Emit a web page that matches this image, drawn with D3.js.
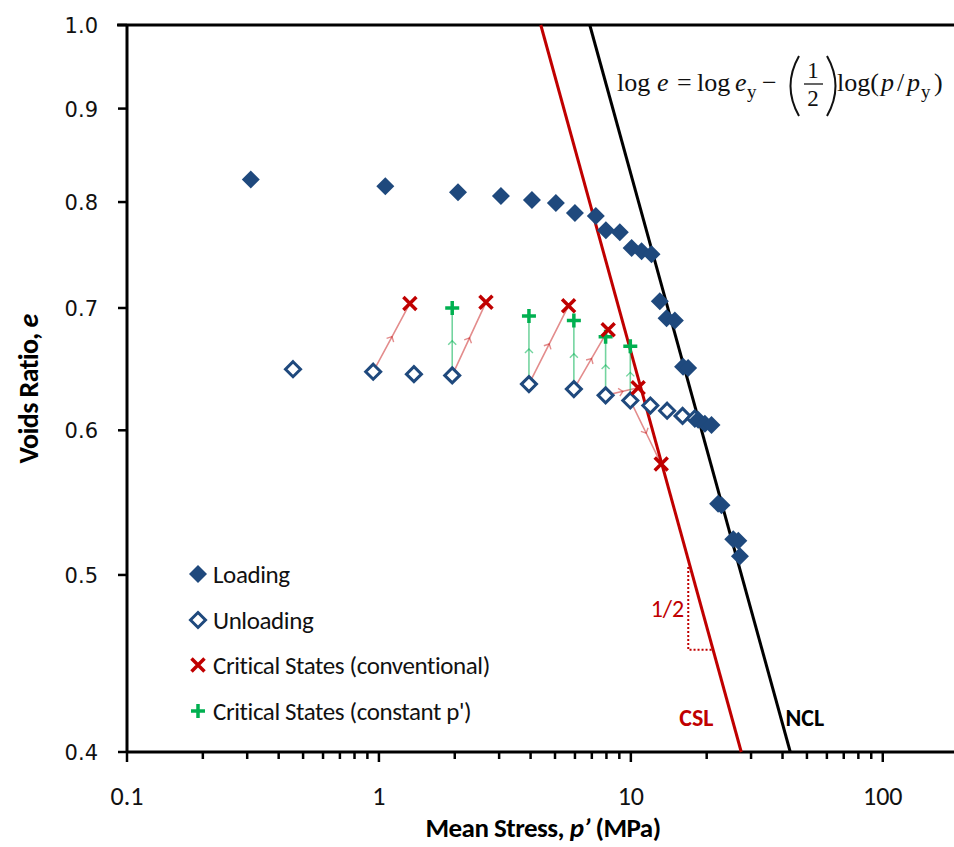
<!DOCTYPE html>
<html lang="en">
<head>
    <meta charset="UTF-8">
    <title>Voids ratio vs mean stress</title>
    <script src="https://d3js.org/d3.v7.min.js"></script>
    <style>
        body { margin: 0; background: #fff; }
        svg { display: block; }
    </style>
</head>
<body>
    <div id="chart"></div>

    <script>
        // loading (filled diamonds)
        const loadP = [0.31, 1.06, 2.06, 3.05, 4.05, 5.04, 6.0, 7.26, 7.96, 9.04, 10.07, 11.03, 12.08, 13.03,
            13.86, 14.95, 16.12, 16.88, 18.5, 19.67, 20.9, 22.2, 22.9, 25.5, 26.7, 27.1];
        const loadE = [0.823, 0.816, 0.810, 0.806, 0.802, 0.799, 0.789, 0.786, 0.772, 0.770, 0.755, 0.752, 0.749, 0.706,
            0.691, 0.689, 0.650, 0.649, 0.608, 0.605, 0.604, 0.547, 0.546, 0.523, 0.522, 0.512];

        // unloading (open diamonds)
        const unloadP = [0.456, 0.949, 1.377, 1.954, 3.94, 5.94, 7.94, 9.95, 11.95, 13.93, 16.04, 17.95];
        const unloadE = [0.648, 0.646, 0.644, 0.643, 0.636, 0.632, 0.627, 0.623, 0.619, 0.615, 0.611, 0.609];

        // critical states, conventional (x) - and which unloading point each arrow starts from
        const convP = [1.327, 2.66, 5.66, 8.13, 10.69, 13.2];
        const convE = [0.704, 0.705, 0.702, 0.681, 0.633, 0.575];
        const convFrom = [1, 3, 4, 5, 6, 7];

        // critical states, constant p' (+)
        const constP = [1.954, 3.94, 5.94, 7.94, 9.95];
        const constE = [0.700, 0.693, 0.689, 0.675, 0.667];
        const constFrom = [3, 4, 5, 6, 7];

        // CSL / NCL : e = (p / pRef)^(-1/2), pRef is p at e = 1
        const lineSlope = 0.5;
        const cslRef = 4.39;
        const nclRef = 6.87;

        // slope triangle
        const triP = [16.9, 21.2];
        const triE = [0.505, 0.455];

        const xMajor = [0.1, 1, 10, 100];
        const xMinor = [0.2, 0.3, 0.4, 0.5, 0.6, 0.7, 0.8, 0.9, 2, 3, 4, 5, 6, 7, 8, 9,
            20, 30, 40, 50, 60, 70, 80, 90];
        const yTicks = [0.4, 0.5, 0.6, 0.7, 0.8, 0.9, 1.0];

        const legendItems = ["Loading", "Unloading", "Critical States (conventional)", "Critical States (constant p')"];

        const width = 954;
        const height = 847;
        const blue = "#1F497D";
        const red = "#C00000";
        const green = "#00B050";
        const uiFont = "Carlito, Calibri, Lato, sans-serif";

        const svg = d3.select("#chart").append("svg")
            .attr("width", width)
            .attr("height", height);

        const x = d3.scaleLog().domain([0.1, 190]).range([127, 953]);
        const y = d3.scaleLog().domain([0.4, 1]).range([752, 25]);

        const defs = svg.append("defs");
        function chevron(id, color, op) {
            defs.append("marker")
                .attr("id", id)
                .attr("viewBox", "-6 -6 12 12")
                .attr("markerWidth", 12)
                .attr("markerHeight", 12)
                .attr("markerUnits", "userSpaceOnUse")
                .attr("orient", "auto")
                .append("path")
                .attr("d", "M-3,-4 L1,0 L-3,4")
                .attr("fill", "none")
                .attr("stroke", color)
                .attr("stroke-opacity", op)
                .attr("stroke-width", 1.4);
        }
        chevron("chevRed", red, 0.45);
        chevron("chevGreen", green, 0.55);

        // axes frame
        svg.append("line").attr("x1", 117).attr("x2", width).attr("y1", y(1)).attr("y2", y(1))
            .attr("stroke", "#000").attr("stroke-width", 3);
        svg.append("line").attr("x1", x(0.1)).attr("x2", x(0.1)).attr("y1", y(1)).attr("y2", y(0.4))
            .attr("stroke", "#000").attr("stroke-width", 3);
        svg.append("line").attr("x1", x(0.1)).attr("x2", width).attr("y1", y(0.4)).attr("y2", y(0.4))
            .attr("stroke", "#000").attr("stroke-width", 3);

        // y ticks
        svg.selectAll(".ytick").data(yTicks).enter().append("line")
            .attr("x1", x(0.1) - 9).attr("x2", x(0.1))
            .attr("y1", d => y(d)).attr("y2", d => y(d))
            .attr("stroke", "#000").attr("stroke-width", 2.5);
        svg.selectAll(".ylab").data(yTicks).enter().append("text")
            .attr("x", 98).attr("y", d => y(d) + 8)
            .attr("text-anchor", "end")
            .attr("font-family", "DejaVu Sans, Verdana, sans-serif")
            .attr("font-size", 21)
            .attr("fill", "#111")
            .text(d => d.toFixed(1));

        // x ticks
        svg.selectAll(".xmaj").data(xMajor).enter().append("line")
            .attr("x1", d => x(d)).attr("x2", d => x(d))
            .attr("y1", y(0.4)).attr("y2", y(0.4) + 10)
            .attr("stroke", "#000").attr("stroke-width", 2.5);
        svg.selectAll(".xmin").data(xMinor).enter().append("line")
            .attr("x1", d => x(d)).attr("x2", d => x(d))
            .attr("y1", y(0.4)).attr("y2", y(0.4) + 7)
            .attr("stroke", "#000").attr("stroke-width", 2.5);
        svg.selectAll(".xlab").data(xMajor).enter().append("text")
            .attr("x", d => x(d)).attr("y", 805)
            .attr("text-anchor", "middle")
            .attr("font-family", uiFont)
            .attr("font-size", 26)
            .attr("fill", "#111")
            .text(d => d);

        // axis titles
        const xt = svg.append("text")
            .attr("x", 543).attr("y", 837)
            .attr("text-anchor", "middle")
            .attr("font-family", uiFont)
            .attr("font-weight", "bold")
            .attr("font-size", 27)
            .attr("letter-spacing", -0.5);
        xt.append("tspan").text("Mean Stress, ");
        xt.append("tspan").attr("font-style", "italic").text("p\u2019");
        xt.append("tspan").text(" (MPa)");

        const yt = svg.append("text")
            .attr("transform", "translate(38,389) rotate(-90)")
            .attr("text-anchor", "middle")
            .attr("font-family", uiFont)
            .attr("font-weight", "bold")
            .attr("font-size", 28)
            .attr("letter-spacing", -0.6);
        yt.append("tspan").text("Voids Ratio, ");
        yt.append("tspan").attr("font-style", "italic").text("e");

        // CSL and NCL
        const lineE = [1, 0.4];
        [[cslRef, red], [nclRef, "#000"]].forEach(([ref, col]) => {
            svg.append("path")
                .datum(lineE)
                .attr("d", d3.line().x(e => x(ref * Math.pow(e, -1 / lineSlope))).y(e => y(e)))
                .attr("stroke", col).attr("stroke-width", 3).attr("fill", "none");
        });

        // slope triangle
        svg.append("path")
            .attr("d", "M" + x(triP[0]) + "," + y(triE[0]) + " L" + x(triP[0]) + "," + y(triE[1]) +
                " L" + x(triP[1]) + "," + y(triE[1]))
            .attr("fill", "none").attr("stroke", red).attr("stroke-width", 2)
            .attr("stroke-dasharray", "2,2");
        svg.append("text")
            .attr("x", x(triP[0]) - 4).attr("y", y(Math.sqrt(triE[0] * triE[1])) + 9)
            .attr("text-anchor", "end")
            .attr("font-family", uiFont).attr("font-size", 24).attr("fill", red)
            .text("1/2");

        svg.append("text")
            .attr("x", x(cslRef * Math.pow(0.43, -2)) - 12).attr("y", 726)
            .attr("text-anchor", "end")
            .attr("font-family", uiFont).attr("font-weight", "bold").attr("font-size", 24).attr("fill", red)
            .text("CSL");
        svg.append("text")
            .attr("x", x(nclRef * Math.pow(0.43, -2)) + 11).attr("y", 726)
            .attr("text-anchor", "start")
            .attr("font-family", uiFont).attr("font-weight", "bold").attr("font-size", 24).attr("fill", "#000")
            .text("NCL");

        // arrows with a chevron at their middle
        function arrow(p0, e0, p1, e1, col, op, marker) {
            const a = [x(p0), y(e0)], b = [x(p1), y(e1)];
            const m = [(a[0] + b[0]) / 2, (a[1] + b[1]) / 2];
            svg.append("polyline")
                .attr("points", [a, m, b].map(v => v.join(",")).join(" "))
                .attr("fill", "none")
                .attr("stroke", col).attr("stroke-opacity", op).attr("stroke-width", 1.6)
                .attr("marker-mid", "url(#" + marker + ")");
        }
        convP.forEach((p, i) => arrow(unloadP[convFrom[i]], unloadE[convFrom[i]], p, convE[i], red, 0.45, "chevRed"));
        constP.forEach((p, i) => arrow(unloadP[constFrom[i]], unloadE[constFrom[i]], p, constE[i], green, 0.55, "chevGreen"));

        // markers
        const diamond = "M0,-9 L9,0 L0,9 L-9,0 Z";
        const diamondOpen = "M0,-7.5 L7.5,0 L0,7.5 L-7.5,0 Z";
        const cross = "M-6.5,-6.5 L6.5,6.5 M-6.5,6.5 L6.5,-6.5";
        const plus = "M-7,0 L7,0 M0,-7 L0,7";

        function drawFilled(g, px, py) {
            g.append("path").attr("d", diamond).attr("transform", "translate(" + px + "," + py + ")")
                .attr("fill", blue);
        }
        function drawOpen(g, px, py) {
            g.append("path").attr("d", diamondOpen).attr("transform", "translate(" + px + "," + py + ")")
                .attr("fill", "#fff").attr("stroke", blue).attr("stroke-width", 3);
        }
        function drawCross(g, px, py) {
            g.append("path").attr("d", cross).attr("transform", "translate(" + px + "," + py + ")")
                .attr("stroke", red).attr("stroke-width", 3.5).attr("fill", "none");
        }
        function drawPlus(g, px, py) {
            g.append("path").attr("d", plus).attr("transform", "translate(" + px + "," + py + ")")
                .attr("stroke", green).attr("stroke-width", 3.5).attr("fill", "none");
        }

        const marks = svg.append("g");
        unloadP.forEach((p, i) => drawOpen(marks, x(p), y(unloadE[i])));
        loadP.forEach((p, i) => drawFilled(marks, x(p), y(loadE[i])));
        constP.forEach((p, i) => drawPlus(marks, x(p), y(constE[i])));
        convP.forEach((p, i) => drawCross(marks, x(p), y(convE[i])));

        // equation
        const eq = svg.append("g")
            .attr("font-family", "Liberation Serif, Times New Roman, serif")
            .attr("font-size", 26)
            .attr("fill", "#111");
        const eqBase = 91;
        const eqParts = [
            [617, "log", false], [657, "e", true], [677, "=", false], [697, "log", false], [735, "e", true],
            [762, "\u2212", false], [837, "log(", false], [881, "p", true], [897, "/", false], [907, "p", true],
            [934, ")", false]
        ];
        eqParts.forEach(([px, t, it]) => {
            eq.append("text").attr("x", px).attr("y", eqBase)
                .attr("font-style", it ? "italic" : "normal").text(t);
        });
        [747, 921].forEach(px => {
            eq.append("text").attr("x", px).attr("y", eqBase + 7).attr("font-size", 19).text("y");
        });
        eq.append("text").attr("x", 813).attr("y", 78).attr("text-anchor", "middle").attr("font-size", 23).text("1");
        eq.append("text").attr("x", 813).attr("y", 106).attr("text-anchor", "middle").attr("font-size", 23).text("2");
        eq.append("line").attr("x1", 804).attr("x2", 823).attr("y1", 84).attr("y2", 84)
            .attr("stroke", "#111").attr("stroke-width", 1.3);
        eq.append("path").attr("d", "M799,56 Q782,86 799,116").attr("fill", "none").attr("stroke", "#111").attr("stroke-width", 2);
        eq.append("path").attr("d", "M827,56 Q844,86 827,116").attr("fill", "none").attr("stroke", "#111").attr("stroke-width", 2);

        // legend
        const legY = [574, 620, 665, 711];
        const leg = svg.append("g");
        drawFilled(leg, 198, legY[0]);
        drawOpen(leg, 198, legY[1]);
        drawCross(leg, 198, legY[2]);
        drawPlus(leg, 198, legY[3]);
        leg.selectAll("text").data(legendItems).enter().append("text")
            .attr("x", 213).attr("y", (d, i) => legY[i] + 9)
            .attr("font-family", uiFont).attr("font-size", 25).attr("fill", "#111")
            .attr("letter-spacing", -0.4)
            .text(d => d);
    </script>
</body>
</html>
